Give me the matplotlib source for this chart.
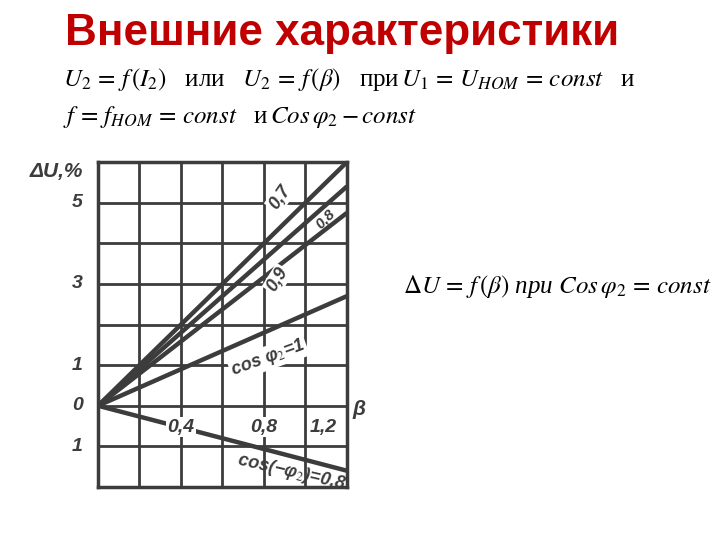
import numpy as np
import matplotlib
matplotlib.use("Agg")
import matplotlib.pyplot as plt

plt.rcParams['mathtext.fontset'] = 'stix'

# values (ΔU, % at beta = 0 and 1.2)
beta = [0.0, 1.2]
du_cos07 = [0.0, 6.0]
du_cos08 = [0.0, 5.4]
du_cos09 = [0.0, 4.75]
du_cos1 = [0.0, 2.7]
du_cos08_cap = [0.0, -1.6]

x_labels = ["0,4", "0,8", "1,2"]
x_label_pos = [0.4, 0.8, 1.085]
y_labels = ["5", "3", "1", "0", "1"]
y_label_pos = [5, 3, 1, 0, -1]

ink = "#3c3c3c"
chart_font = dict(family="Liberation Sans", weight="bold", style="italic", color=ink)

fig = plt.figure(figsize=(7.2, 5.4), dpi=100)
fig.patch.set_facecolor("white")

# title and formulas
fig.text(65 / 720, 1 - 45 / 540, "Внешние характеристики", family="Liberation Sans",
         weight="bold", fontsize=31.7, color="#c00000", va="baseline")
fig.text(63 / 720, 1 - 86 / 540,
         r"$U_2\,=\,f\,(I_2)$   или   $U_2\,=\,f\,(\beta)$   при$\,U_1\,=\,U_{HOM}\,=\,const$   и",
         family="Liberation Serif", fontsize=18, va="baseline")
fig.text(63 / 720, 1 - 123 / 540,
         r"$f\,=\,f_{HOM}\,=\,const$   и$\,Cos\,\varphi_2 - const$",
         family="Liberation Serif", fontsize=18, va="baseline")
fig.text(403 / 720, 1 - 293 / 540,
         r"$\Delta U\,=\,f\,(\beta)$ при $Cos\,\varphi_2\,=\,const$",
         family="Liberation Serif", style="italic", fontsize=18, va="baseline")

# the chart
ax = fig.add_axes([98 / 720, 1 - 487 / 540, (347 - 98) / 720, (487 - 162) / 540])
ax.set_xlim(0, 1.2)
ax.set_ylim(-2, 6)
ax.set_xticks(np.arange(0, 1.21, 0.2))
ax.set_yticks(range(-2, 7))
ax.tick_params(length=0, labelbottom=False, labelleft=False)
ax.grid(True, color=ink, lw=2)
ax.set_axisbelow(True)
for s in ax.spines.values():
    s.set_linewidth(2.5)
    s.set_color(ink)

for du in [du_cos07, du_cos08, du_cos09, du_cos1, du_cos08_cap]:
    ax.plot(beta, du, color=ink, lw=3.2, solid_capstyle="butt", zorder=3)

box = dict(fc="white", ec="none", pad=1)
for lab, x in zip(x_labels, x_label_pos):
    ax.text(x, -0.53, lab, ha="center", va="center", fontsize=14, bbox=box,
            zorder=4, **chart_font)
for lab, y in zip(y_labels, y_label_pos):
    ax.text(-0.1, y, lab, ha="center", va="center", fontsize=14, clip_on=False,
            **chart_font)
ax.text(-0.33, 6, "ΔU,%", ha="left", va="top", fontsize=15, clip_on=False, **chart_font)
ax.text(1.26, -0.1, "β", ha="center", va="center", fontsize=15, clip_on=False, **chart_font)

# curve labels
ax.text(0.877, 5.12, "0,7", rotation=55, ha="center", va="center", fontsize=13,
        bbox=box, zorder=4, **chart_font)
ax.text(1.094, 4.6, "0,8", rotation=45, ha="center", va="center", fontsize=11,
        bbox=box, zorder=2, **chart_font)
ax.text(0.865, 3.1, "0,9", rotation=58, ha="center", va="center", fontsize=13,
        bbox=box, zorder=4, **chart_font)
ax.text(0.82, 1.18, r"cos φ$_2$=1", rotation=20, ha="center", va="center", fontsize=13,
        bbox=box, zorder=4, **chart_font)
ax.text(0.93, -1.64, r"cos(−φ$_2$)=0,8", rotation=-13, ha="center", va="center",
        fontsize=13, zorder=4, clip_on=True, **chart_font)

fig.savefig("out.png", dpi=100, facecolor="white")
